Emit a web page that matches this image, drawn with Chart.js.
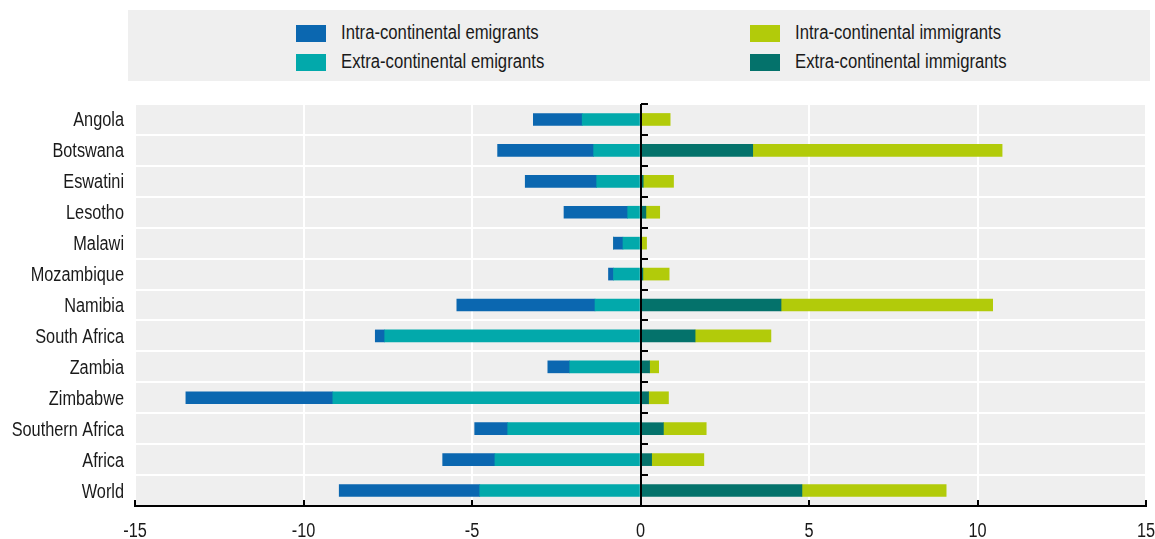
<!DOCTYPE html>
<html>
<head>
<meta charset="utf-8">
<script src="https://cdn.jsdelivr.net/npm/chart.js@4.4.1/dist/chart.umd.min.js"></script>
<style>
  html, body { margin: 0; padding: 0; background: #fff; }
  #wrap { position: relative; width: 1155px; height: 539px; }
  #legend {
    position: absolute; left: 128px; top: 10px; width: 1022px; height: 71px;
    background: #efefef;
  }
  .sw { position: absolute; width: 30px; height: 17px; }
  .lb {
    position: absolute; font-family: "Liberation Sans", Arial, sans-serif;
    font-size: 20px; line-height: 20px; color: #1a1a1a; white-space: nowrap;
    transform: scaleX(0.835); transform-origin: 0 0;
  }
  canvas { position: absolute; left: 0; top: 0; }
</style>
</head>
<body>
<div id="wrap">
  <div id="legend"></div>
  <canvas id="myChart" width="1155" height="539"></canvas>
</div>
<script>
const FONT = '"Liberation Sans", Arial, sans-serif';
const NARROW = 0.815; // the original uses a condensed face

const categories = ['Angola', 'Botswana', 'Eswatini', 'Lesotho', 'Malawi', 'Mozambique', 'Namibia',
  'South Africa', 'Zambia', 'Zimbabwe', 'Southern Africa', 'Africa', 'World'];

// emigrants shown as negative values
const intraEmigrants = [-1.45, -2.85, -2.12, -1.89, -0.28, -0.15, -4.10, -0.28, -0.65, -4.36, -0.98, -1.55, -4.17];
const extraEmigrants = [-1.73, -1.39, -1.30, -0.38, -0.52, -0.80, -1.35, -7.59, -2.10, -9.13, -3.94, -4.32, -4.77];
const intraImmigrants = [0.86, 7.40, 0.90, 0.41, 0.18, 0.78, 6.28, 2.25, 0.27, 0.59, 1.27, 1.55, 4.28];
const extraImmigrants = [0.02, 3.33, 0.08, 0.16, 0.00, 0.07, 4.17, 1.62, 0.27, 0.24, 0.68, 0.33, 4.79];

const xTicks = [-15, -10, -5, 0, 5, 10, 15];

const colors = {
  intraEmig: '#0b67b0',
  extraEmig: '#02a9ab',
  intraImm: '#b2cb0a',
  extraImm: '#04726b'
};

// legend, two columns like the original
const legendItems = [
  { label: 'Intra-continental emigrants', color: colors.intraEmig, x: 296, y: 25 },
  { label: 'Extra-continental emigrants', color: colors.extraEmig, x: 296, y: 54 },
  { label: 'Intra-continental immigrants', color: colors.intraImm, x: 750, y: 25 },
  { label: 'Extra-continental immigrants', color: colors.extraImm, x: 750, y: 54 }
];
const legendEl = document.getElementById('legend');
legendItems.forEach(item => {
  const sw = document.createElement('div');
  sw.className = 'sw';
  sw.style.left = (item.x - 128) + 'px';
  sw.style.top = (item.y - 10) + 'px';
  sw.style.background = item.color;
  legendEl.appendChild(sw);
  const lb = document.createElement('div');
  lb.className = 'lb';
  lb.style.left = (item.x + 45 - 128) + 'px';
  lb.style.top = (item.y - 3 - 10) + 'px';
  lb.textContent = item.label;
  legendEl.appendChild(lb);
});

const plotBackground = {
  id: 'plotBackground',
  beforeDraw(chart) {
    const { ctx, chartArea: a } = chart;
    ctx.save();
    ctx.fillStyle = '#efefef';
    ctx.fillRect(a.left, a.top, a.right - a.left, a.bottom - a.top);
    ctx.restore();
  }
};

function narrowText(ctx, text, x, y, align) {
  ctx.save();
  ctx.translate(x, y);
  ctx.scale(NARROW, 1);
  ctx.textAlign = align;
  ctx.fillText(text, 0, 0);
  ctx.restore();
}

const axisMarks = {
  id: 'axisMarks',
  afterDatasetsDraw(chart) {
    const { ctx, chartArea: a, scales } = chart;
    const x0 = Math.round(scales.x.getPixelForValue(0));
    ctx.save();
    ctx.strokeStyle = '#000';
    ctx.lineWidth = 2;
    // zero line
    ctx.beginPath();
    ctx.moveTo(x0, a.top);
    ctx.lineTo(x0, a.bottom);
    ctx.stroke();
    // small ticks on the zero line at each category boundary
    const rowH = (a.bottom - a.top) / categories.length;
    for (let i = 0; i < categories.length; i++) {
      const y = Math.round(a.top + i * rowH);
      ctx.beginPath();
      ctx.moveTo(x0, y);
      ctx.lineTo(x0 + 7, y);
      ctx.stroke();
    }
    // upward ticks on the x axis
    xTicks.forEach(v => {
      const px = Math.round(scales.x.getPixelForValue(v));
      ctx.beginPath();
      ctx.moveTo(px, a.bottom - 6);
      ctx.lineTo(px, a.bottom);
      ctx.stroke();
    });

    // tick labels, drawn condensed
    ctx.fillStyle = '#1a1a1a';
    ctx.font = '20px ' + FONT;
    ctx.textBaseline = 'alphabetic';
    categories.forEach((c, i) => {
      const y = scales.y.getPixelForValue(i);
      narrowText(ctx, c, a.left - 11, y + 7, 'right');
    });
    xTicks.forEach(v => {
      narrowText(ctx, String(v), scales.x.getPixelForValue(v), 537, 'center');
    });
    ctx.restore();
  }
};

Chart.defaults.font.family = FONT;
Chart.defaults.font.size = 20;

const myChartRef = document.getElementById('myChart').getContext('2d');
new Chart(myChartRef, {
  type: 'bar',
  data: {
    labels: categories,
    datasets: [
      { label: 'Extra-continental emigrants', data: extraEmigrants, backgroundColor: colors.extraEmig },
      { label: 'Intra-continental emigrants', data: intraEmigrants, backgroundColor: colors.intraEmig },
      { label: 'Extra-continental immigrants', data: extraImmigrants, backgroundColor: colors.extraImm },
      { label: 'Intra-continental immigrants', data: intraImmigrants, backgroundColor: colors.intraImm }
    ]
  },
  options: {
    indexAxis: 'y',
    responsive: false,
    animation: false,
    barThickness: 12,
    layout: { padding: { top: 104, right: 9, left: 0, bottom: 0 } },
    scales: {
      x: {
        stacked: true,
        min: -15,
        max: 15,
        afterBuildTicks: (scale) => { scale.ticks = xTicks.map(v => ({ value: v })); },
        afterFit: (scale) => { scale.height = 33; },
        grid: { color: '#fff', lineWidth: 2, drawTicks: false },
        border: { display: true, color: '#000', width: 2 },
        ticks: { display: false }
      },
      y: {
        stacked: true,
        afterFit: (scale) => { scale.width = 135; },
        grid: { color: '#fff', lineWidth: 2, drawTicks: false },
        border: { display: false },
        ticks: { display: false }
      }
    },
    plugins: {
      legend: { display: false },
      tooltip: { enabled: false }
    }
  },
  plugins: [plotBackground, axisMarks]
});
</script>
</body>
</html>
